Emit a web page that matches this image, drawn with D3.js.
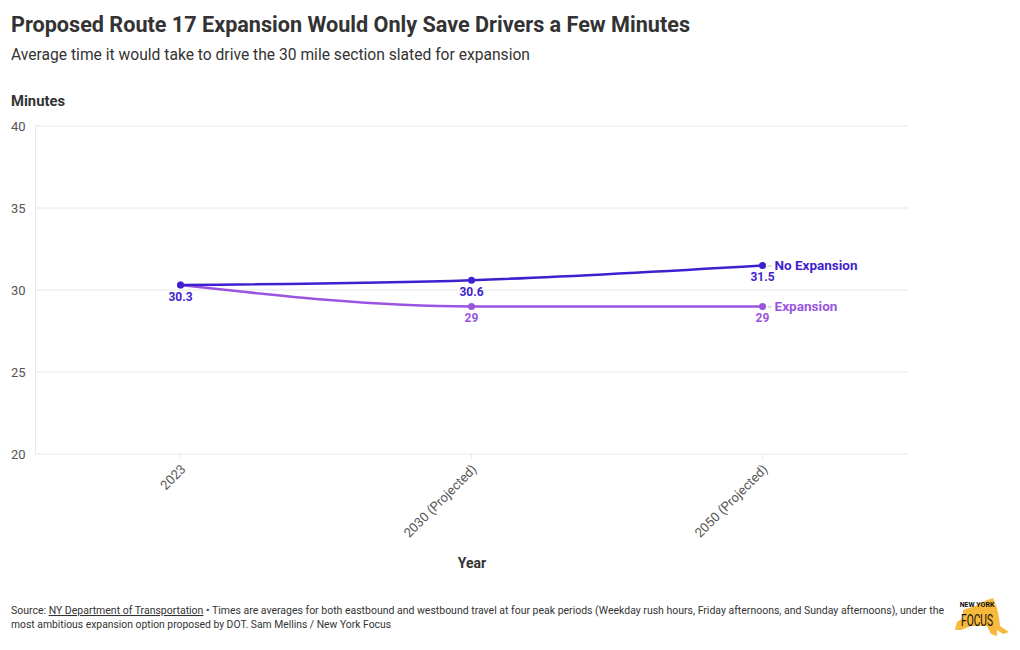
<!DOCTYPE html>
<html><head><meta charset="utf-8">
<script src="https://cdn.jsdelivr.net/npm/d3@7"></script>
<style>
body{margin:0;background:#fff;}
svg{display:block;font-family:"Source Sans Pro","Roboto","Noto Sans",sans-serif;}
</style></head>
<body>
<svg id="c" width="1020" height="650"></svg>
<script>
const categories = ["2023", "2030 (Projected)", "2050 (Projected)"];
const seriesNames = ["No Expansion", "Expansion"];
const noExpansion = [30.3, 30.6, 31.5];
const expansion = [30.3, 29, 29];
const valueLabelsNo = ["30.3", "30.6", "31.5"];
const valueLabelsExp = ["", "29", "29"];
const yTicks = [20, 25, 30, 35, 40];
const colors = ["#3f1fd0", "#9a55e0"];

const svg = d3.select("#c");

// Titles
svg.append("text").attr("x", 11).attr("y", 32).attr("font-size", 22).attr("font-weight", 700)
  .attr("fill", "#333").attr("textLength", 679).attr("lengthAdjust","spacingAndGlyphs")
  .text("Proposed Route 17 Expansion Would Only Save Drivers a Few Minutes");
svg.append("text").attr("x", 11).attr("y", 60).attr("font-size", 16).attr("fill", "#333")
  .attr("textLength", 519).attr("lengthAdjust","spacingAndGlyphs")
  .text("Average time it would take to drive the 30 mile section slated for expansion");
svg.append("text").attr("x", 11).attr("y", 106).attr("font-size", 14).attr("font-weight", 700)
  .attr("fill", "#333").attr("textLength", 54).attr("lengthAdjust","spacingAndGlyphs").text("Minutes");

const x = d3.scalePoint().domain(categories).range([35, 908]).padding(0.5);
const y = d3.scaleLinear().domain([20, 40]).range([454, 126]);

// grid
svg.append("g").selectAll("line").data(yTicks).join("line")
  .attr("x1", 35).attr("x2", 908).attr("y1", d => y(d)).attr("y2", d => y(d))
  .attr("stroke", "#e8e8e8").attr("stroke-width", 1);
svg.append("line").attr("x1", 35.5).attr("x2", 35.5).attr("y1", y(40)).attr("y2", y(20))
  .attr("stroke", "#e8e8e8");

// y axis labels
svg.append("g").selectAll("text").data(yTicks).join("text")
  .attr("x", 11).attr("y", d => y(d) + 5).attr("font-size", 13).attr("fill", "#555")
  .text(d => d);

// x ticks
const xg = svg.append("g");
xg.selectAll("line").data(categories).join("line")
  .attr("x1", d => x(d)).attr("x2", d => x(d)).attr("y1", 454).attr("y2", 459)
  .attr("stroke", "#e8e8e8");
xg.selectAll("text").data(categories).join("text")
  .attr("transform", d => `translate(${x(d) + 6},${470}) rotate(-45)`)
  .attr("text-anchor", "end").attr("font-size", 13).attr("fill", "#555")
  .text(d => d);

svg.append("text").attr("x", 472).attr("y", 568).attr("text-anchor", "middle")
  .attr("font-size", 14).attr("font-weight", 700).attr("fill", "#333").text("Year");

// lines
const line = d3.line().x((d, i) => x(categories[i])).y(d => y(d)).curve(d3.curveMonotoneX);
const data = [noExpansion, expansion];
const labels = [valueLabelsNo, valueLabelsExp];
[1, 0].forEach(s => {
  svg.append("path").datum(data[s]).attr("d", line).attr("fill", "none")
    .attr("stroke", colors[s]).attr("stroke-width", 2.5);
});
[1, 0].forEach(s => {
  svg.append("g").selectAll("circle").data(data[s]).join("circle")
    .attr("cx", (d, i) => x(categories[i])).attr("cy", d => y(d)).attr("r", 3.5)
    .attr("fill", colors[s]);
  svg.append("g").selectAll("text").data(data[s]).join("text")
    .attr("x", (d, i) => x(categories[i])).attr("y", d => y(d) + 16)
    .attr("text-anchor", "middle").attr("font-size", 12).attr("font-weight", 700)
    .attr("fill", colors[s]).text((d, i) => labels[s][i]);
  const last = data[s][data[s].length - 1];
  const lx = x(categories[categories.length - 1]);
  svg.append("line").attr("x1", lx + 5).attr("x2", lx + 9).attr("y1", y(last) + 0.5).attr("y2", y(last) + 0.5)
    .attr("stroke", "#bbb").attr("stroke-width", 1);
  svg.append("text").attr("x", lx + 12).attr("y", y(last) + 5).attr("font-size", 13)
    .attr("font-weight", 700).attr("fill", colors[s])
    .attr("textLength", s === 0 ? 83 : 63).attr("lengthAdjust","spacingAndGlyphs").text(seriesNames[s]);
});

// footer
const f1 = svg.append("text").attr("x", 11).attr("y", 614).attr("font-size", 10.5).attr("fill", "#333")
  .attr("textLength", 933).attr("lengthAdjust","spacingAndGlyphs");
f1.append("tspan").text("Source: ");
f1.append("tspan").attr("text-decoration", "underline").text("NY Department of Transportation");
f1.append("tspan").text(" • Times are averages for both eastbound and westbound travel at four peak periods (Weekday rush hours, Friday afternoons, and Sunday afternoons), under the");
svg.append("text").attr("x", 11).attr("y", 628).attr("font-size", 10.5).attr("fill", "#333")
  .attr("textLength", 380).attr("lengthAdjust","spacingAndGlyphs")
  .text("most ambitious expansion option proposed by DOT. Sam Mellins / New York Focus");

// logo
const lg = svg.append("g").attr("transform", "translate(953,596)");
lg.append("path").attr("d", "M10,14 L22,10 L34,4 L40,2 L44,12 L46,22 L47,30 L56,36 L50,38 L44,34 L44,40 L38,38 L34,30 L18,30 L8,34 L2,34 L4,26 L10,22 Z")
  .attr("fill", "#f6b93b");
lg.append("text").attr("x", 24).attr("y", 11).attr("text-anchor", "middle").attr("font-size", 7)
  .attr("font-weight", 700).attr("fill", "#111").text("NEW YORK");
lg.append("text").attr("x", 24).attr("y", 30).attr("text-anchor", "middle").attr("font-size", 17)
  .attr("fill", "#111").attr("textLength", 32)
  .attr("lengthAdjust","spacingAndGlyphs").text("FOCUS");
</script>
</body></html>
